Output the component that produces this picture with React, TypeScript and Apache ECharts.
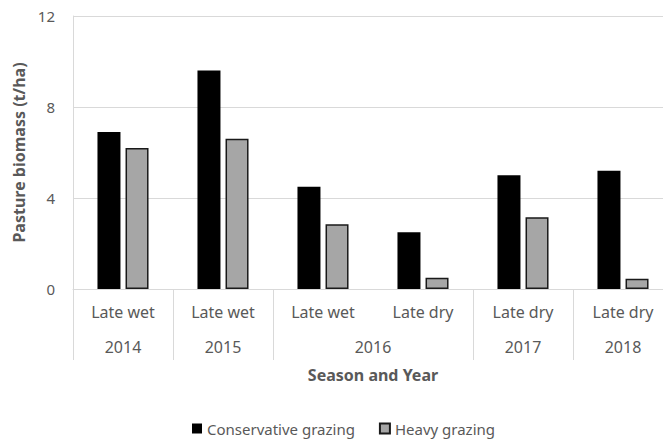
import React, { useEffect, useRef } from "react";
import * as echarts from "echarts";

// Season of each sampling, and the year it belongs to
const seasons = ["Late wet", "Late wet", "Late wet", "Late dry", "Late dry", "Late dry"];
const years = ["2014", "2015", "2016", "2016", "2017", "2018"];

// Pasture biomass (t/ha)
const conservative = [6.9, 9.6, 4.5, 2.5, 5.0, 5.2];
const heavy = [6.2, 6.6, 2.85, 0.5, 3.15, 0.45];

const yTicks = { min: 0, max: 12, interval: 4 };

const TEXT = "#595959";
const GRID = "#d9d9d9";
const FONT = "'Noto Sans', sans-serif";

// Group consecutive equal years: start index and count of categories
function yearGroups() {
  const groups: { year: string; start: number; count: number }[] = [];
  years.forEach((y, i) => {
    const last = groups[groups.length - 1];
    if (last && last.year === y) last.count += 1;
    else groups.push({ year: y, start: i, count: 1 });
  });
  return groups;
}

export default function App() {
  const ref = useRef<HTMLDivElement>(null);

  useEffect(() => {
    if (!ref.current) return;
    const chart = echarts.init(ref.current, undefined, { renderer: "svg" });
    const groups = yearGroups();
    const yearAt = (v: number) => {
      const g = groups.find((gr) => Math.abs(gr.start + gr.count / 2 - v) < 1e-6);
      return g ? g.year : "";
    };

    chart.setOption({
      animation: false,
      textStyle: { fontFamily: FONT },
      grid: {
        left: 73,
        width: 600,
        top: 16,
        bottom: 152,
        containLabel: false,
        outerBoundsMode: "none",
      },
      legend: {
        left: 187,
        top: 416,
        itemWidth: 10,
        itemHeight: 10,
        itemGap: 24,
        icon: "rect",
        textStyle: { color: TEXT, fontSize: 15, fontFamily: FONT },
        data: ["Conservative grazing", "Heavy grazing"],
      },
      xAxis: [
        {
          type: "category",
          data: seasons,
          position: "bottom",
          axisLine: { show: true, lineStyle: { color: GRID, width: 1 } },
          axisTick: {
            show: true,
            length: 71,
            interval: (index: number) => index === 0 || years[index] !== years[index - 1],
            lineStyle: { color: GRID, width: 1 },
          },
          axisLabel: {
            interval: 0,
            color: TEXT,
            fontSize: 16,
            margin: 15,
            fontFamily: FONT,
          },
          splitLine: { show: false },
        },
        {
          type: "value",
          min: 0,
          max: years.length,
          interval: 0.5,
          position: "bottom",
          axisLine: { show: false },
          axisTick: { show: false },
          splitLine: { show: false },
          axisLabel: {
            color: TEXT,
            fontSize: 16,
            margin: 50,
            fontFamily: FONT,
            formatter: (v: number) => yearAt(v),
          },
          name: "Season and Year",
          nameLocation: "middle",
          nameGap: 78,
          nameTextStyle: { color: TEXT, fontSize: 16, fontWeight: "bold", fontFamily: FONT },
        },
      ],
      yAxis: {
        type: "value",
        min: yTicks.min,
        max: yTicks.max,
        interval: yTicks.interval,
        axisLine: { show: true, lineStyle: { color: GRID, width: 1 } },
        axisTick: { show: false },
        splitLine: { show: true, lineStyle: { color: GRID, width: 1 } },
        axisLabel: { color: TEXT, fontSize: 15, margin: 18, fontFamily: FONT },
        name: "Pasture biomass (t/ha)",
        nameLocation: "middle",
        nameGap: 45,
        nameTextStyle: { color: TEXT, fontSize: 16, fontWeight: "bold", fontFamily: FONT },
      },
      series: [
        {
          name: "Conservative grazing",
          type: "bar",
          xAxisIndex: 0,
          data: conservative,
          barWidth: 23,
          barGap: "22%",
          itemStyle: { color: "#000000" },
        },
        {
          name: "Heavy grazing",
          type: "bar",
          xAxisIndex: 0,
          data: heavy,
          barWidth: 23,
          barGap: "22%",
          itemStyle: { color: "#a6a6a6", borderColor: "#1a1a1a", borderWidth: 1.5 },
        },
      ],
    });

    return () => chart.dispose();
  }, []);

  return <div ref={ref} style={{ width: 663, height: 441, position: "absolute", left: 0, top: 0 }} />;
}
